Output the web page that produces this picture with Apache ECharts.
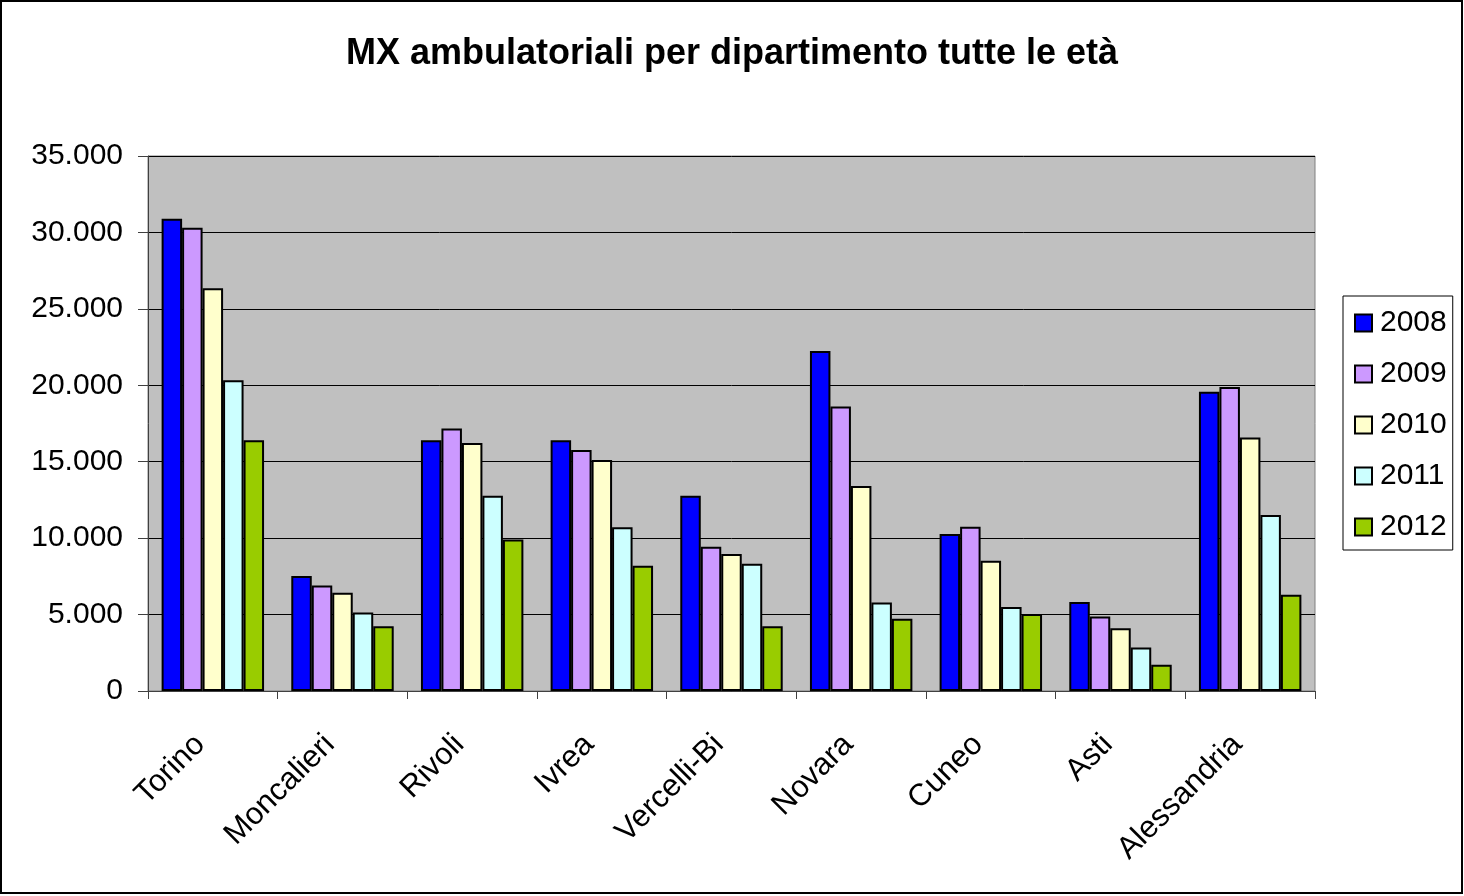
<!DOCTYPE html>
<html>
<head>
<meta charset="utf-8">
<script src="https://cdn.jsdelivr.net/npm/echarts@6/dist/echarts.min.js"></script>
<style>
html,body{margin:0;padding:0;background:#fff;}
#chart{width:1464px;height:896px;}
</style>
</head>
<body>
<div id="chart"></div>
<script>
const titleText = 'MX ambulatoriali per dipartimento tutte le età';
const categories = ['Torino','Moncalieri','Rivoli','Ivrea','Vercelli-Bi','Novara','Cuneo','Asti','Alessandria'];
const years = ['2008','2009','2010','2011','2012'];
const colors = ['#0000FF','#CC99FF','#FFFFCC','#CCFFFF','#99CC00'];
const v2008 = [30900, 7520, 16400, 16400, 12780, 22240, 10270, 5830, 19570];
const v2009 = [30300, 6910, 17180, 15770, 9440, 18610, 10750, 4870, 19880];
const v2010 = [26350, 6430, 16220, 15120, 8960, 13410, 8520, 4110, 16580];
const v2011 = [20330, 5140, 12770, 10710, 8320, 5790, 5500, 2840, 11510];
const v2012 = [16400, 4230, 9910, 8190, 4240, 4720, 5030, 1720, 6290];
const seriesValues = [v2008, v2009, v2010, v2011, v2012];
const yMin = 0, yMax = 35000, yStep = 5000;

function fmt(v){
  return String(v).replace(/\B(?=(\d{3})+(?!\d))/g, '.');
}

const chart = echarts.init(document.getElementById('chart'));
const font = 'Liberation Sans, Arial, sans-serif';
chart.setOption({
  animation: false,
  backgroundColor: '#fff',
  textStyle: { fontFamily: font },
  title: {
    text: titleText,
    left: 'center',
    top: 31,
    textStyle: { fontSize: 36, fontWeight: 'bold', color: '#000', fontFamily: font }
  },
  graphic: [{
    type: 'rect',
    shape: { x: 1, y: 1, width: 1461, height: 892 },
    style: { fill: 'none', stroke: '#000', lineWidth: 2 },
    silent: true, z: 100
  }],
  legend: {
    orient: 'vertical',
    left: 1343,
    top: 296,
    width: 112,
    padding: [12, 6, 8, 11],
    itemGap: 21,
    itemWidth: 17,
    itemHeight: 17,
    icon: 'rect',
    borderColor: '#000',
    borderWidth: 1,
    backgroundColor: '#fff',
    textStyle: { fontSize: 30, color: '#000', fontFamily: font, lineHeight: 30, padding: [0,0,0,3] },
    data: years
  },
  grid: {
    left: 148, right: 149, top: 156, bottom: 205,
    show: true, backgroundColor: '#C0C0C0', borderColor: '#808080', borderWidth: 1,
    containLabel: false
  },
  xAxis: {
    type: 'category',
    data: categories,
    axisLine: { lineStyle: { color: '#404040', width: 1 } },
    axisTick: { show: true, length: 8, lineStyle: { color: '#404040' } },
    axisLabel: { rotate: 45, fontSize: 31, color: '#000', margin: 36, fontFamily: font, interval: 0, padding: [0, 18, 0, 0] }
  },
  yAxis: {
    type: 'value',
    min: yMin, max: yMax, interval: yStep,
    axisLine: { show: true, lineStyle: { color: '#404040', width: 1 } },
    axisTick: { show: true, length: 10, lineStyle: { color: '#404040' } },
    axisLabel: { fontSize: 30, color: '#000', margin: 25, fontFamily: font, formatter: fmt },
    splitLine: { lineStyle: { color: '#000', width: 1 } }
  },
  series: years.map((y, i) => ({
    name: y,
    type: 'bar',
    data: seriesValues[i],
    barGap: '0%',
    barCategoryGap: '21%',
    itemStyle: { color: colors[i], borderColor: '#000', borderWidth: 2 }
  }))
});
</script>
</body>
</html>
